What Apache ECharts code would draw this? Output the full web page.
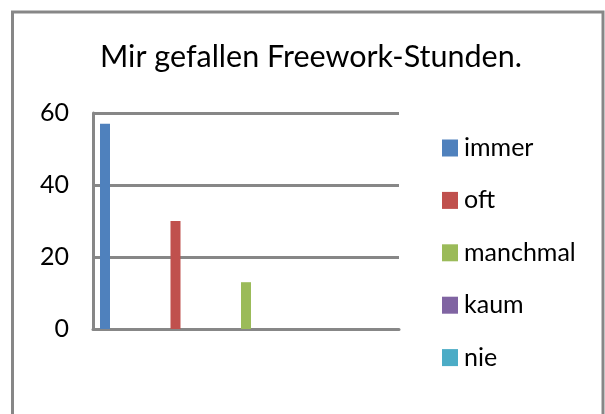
<!DOCTYPE html>
<html>
<head>
<meta charset="utf-8">
<script src="https://cdn.jsdelivr.net/npm/echarts@6/dist/echarts.min.js"></script>
<style>
  html, body { margin: 0; padding: 0; background: #fff; }
  #main { width: 605px; height: 414px; }
</style>
</head>
<body>
<div id="main"></div>
<script>
var categories = ['']
var seriesNames = ['immer', 'oft', 'manchmal', 'kaum', 'nie']
var seriesValues = [[57], [30], [13], [0], [0]]
var colors = ['#4F81BD', '#C0504D', '#9BBB59', '#8064A2', '#4BACC6']
var yTicks = { min: 0, max: 60, interval: 20 }

var chart = echarts.init(document.getElementById('main'))

var series = seriesNames.map(function (name, i) {
  return {
    name: name,
    type: 'bar',
    data: seriesValues[i],
    barWidth: 10,
    barGap: '605%',
    itemStyle: { color: colors[i] },
    silent: true
  }
})

var option = {
  animation: false,
  backgroundColor: '#fff',
  color: colors,
  textStyle: { fontFamily: 'Lato' },
  title: {
    text: 'Mir gefallen Freework-Stunden.',
    left: 100,
    top: 42,
    padding: 0,
    textStyle: { fontFamily: 'Lato', fontSize: 30.5, fontWeight: 'normal', color: '#000' }
  },
  legend: {
    orient: 'vertical',
    left: 442,
    top: 135,
    padding: 0,
    itemWidth: 16,
    itemHeight: 17,
    itemGap: 26.4,
    icon: 'rect',
    textStyle: { fontFamily: 'Lato', fontSize: 25, color: '#000', lineHeight: 26, padding: [0, 0, 0, 1] },
    data: seriesNames
  },
  grid: { left: 93, right: 206, top: 113, bottom: 85 },
  xAxis: {
    type: 'category',
    data: categories,
    axisTick: { show: false },
    axisLabel: { show: false },
    axisLine: { lineStyle: { color: '#878787', width: 3 } }
  },
  yAxis: {
    type: 'value',
    min: yTicks.min,
    max: yTicks.max,
    interval: yTicks.interval,
    axisLine: { show: true, lineStyle: { color: '#878787', width: 3 } },
    axisTick: { show: false },
    axisLabel: { margin: 24, fontFamily: 'Lato', fontSize: 25, color: '#000' },
    splitLine: { lineStyle: { color: '#878787', width: 3 } }
  },
  graphic: [{
    type: 'rect',
    shape: { x: 12.5, y: 12, width: 590.5, height: 430 },
    style: { fill: 'none', stroke: '#878787', lineWidth: 3 },
    silent: true
  }],
  series: series
}

chart.setOption(option)
</script>
</body>
</html>
